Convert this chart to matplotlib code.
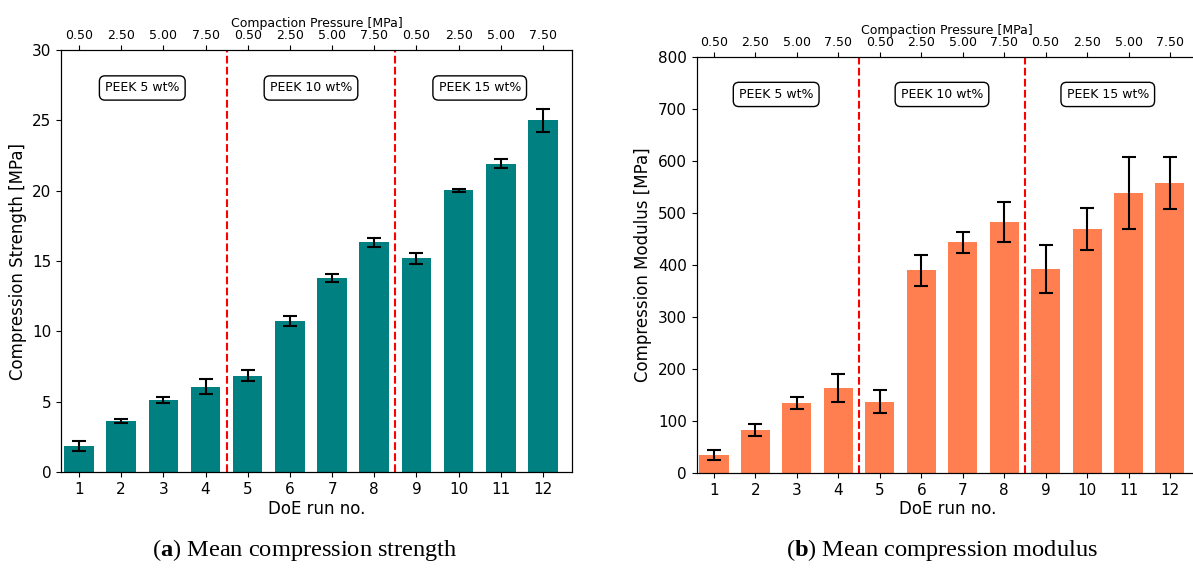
import matplotlib
matplotlib.use("Agg")
import matplotlib.pyplot as plt
import numpy as np

runs = list(range(1, 13))
pressure_labels = ["0.50", "2.50", "5.00", "7.50"] * 3
groups = ["PEEK 5 wt%", "PEEK 10 wt%", "PEEK 15 wt%"]

strength = [1.86, 3.63, 5.12, 6.07, 6.84, 10.73, 13.78, 16.33, 15.19, 20.03, 21.93, 25.0]
strength_err = [0.36, 0.12, 0.21, 0.53, 0.38, 0.38, 0.3, 0.34, 0.37, 0.1, 0.33, 0.8]

modulus = [35, 83, 135, 164, 137, 390, 444, 483, 392, 469, 539, 558]
modulus_err = [10, 11, 12, 27, 22, 30, 20, 38, 46, 40, 69, 50]

plt.rcParams['mathtext.fontset'] = 'custom'
plt.rcParams['mathtext.bf'] = 'Liberation Serif:bold'
plt.rcParams['mathtext.rm'] = 'Liberation Serif'

W, H = 1193, 570
fig = plt.figure(figsize=(W / 100, H / 100), dpi=100)

def px_axes(left_tick1, spacing, top, bottom, xr):
    x0 = left_tick1 - 0.42 * spacing
    w = (xr - 0.58) * spacing
    return [x0 / W, (H - bottom) / H, w / W, (bottom - top) / H]

panels = [
    dict(rect=px_axes(79, 42.18, 50, 472, 12.68), xr=12.68, vals=strength, errs=strength_err,
         color="#008080", ylim=(0, 30), yticks=np.arange(0, 31, 5),
         ylabel="Compression Strength [MPa]",
         caption=r"($\mathbf{a}$) Mean compression strength", capx=305),
    dict(rect=px_axes(714, 41.45, 57, 473, 12.95), xr=12.95, vals=modulus, errs=modulus_err,
         color="#FF7F50", ylim=(0, 800), yticks=np.arange(0, 801, 100),
         ylabel="Compression Modulus [MPa]",
         caption=r"($\mathbf{b}$) Mean compression modulus", capx=942),
]

for p in panels:
    ax = fig.add_axes(p["rect"])
    ax.bar(runs, p["vals"], width=0.7, color=p["color"], yerr=p["errs"],
           capsize=5, error_kw=dict(ecolor="black", elinewidth=1.5, capthick=1.5))
    ax.set_xlim(0.58, p["xr"])
    ax.set_ylim(*p["ylim"])
    ax.set_yticks(p["yticks"])
    ax.set_xticks(runs)
    ax.tick_params(axis="both", labelsize=11)
    ax.set_xlabel("DoE run no.", fontsize=12, labelpad=2)
    ax.xaxis.label.set_x((6.63 - 0.58) / (p["xr"] - 0.58))
    ax.set_ylabel(p["ylabel"], fontsize=12)
    for xv in (4.5, 8.5):
        ax.axvline(xv, color="red", linestyle="--", linewidth=1.5)
    for i, g in enumerate(groups):
        ax.text(2.5 + 4 * i, 0.91, g, transform=ax.get_xaxis_transform(),
                ha="center", va="center", fontsize=9,
                bbox=dict(boxstyle="round,pad=0.45", facecolor="white", edgecolor="black"))
    ax2 = ax.twiny()
    ax2.set_xlim(ax.get_xlim())
    ax2.set_xticks(runs)
    ax2.set_xticklabels(pressure_labels)
    ax2.tick_params(axis="x", labelsize=9, pad=2)
    ax2.set_xlabel("Compaction Pressure [MPa]", fontsize=9, labelpad=2)
    ax2.xaxis.label.set_x((6.63 - 0.58) / (p["xr"] - 0.58))
    fig.text(p["capx"] / W, 1 - 550 / H, p["caption"], ha="center", va="center",
             fontsize=17.6, family="Liberation Serif")

fig.savefig("out.png", dpi=100)
